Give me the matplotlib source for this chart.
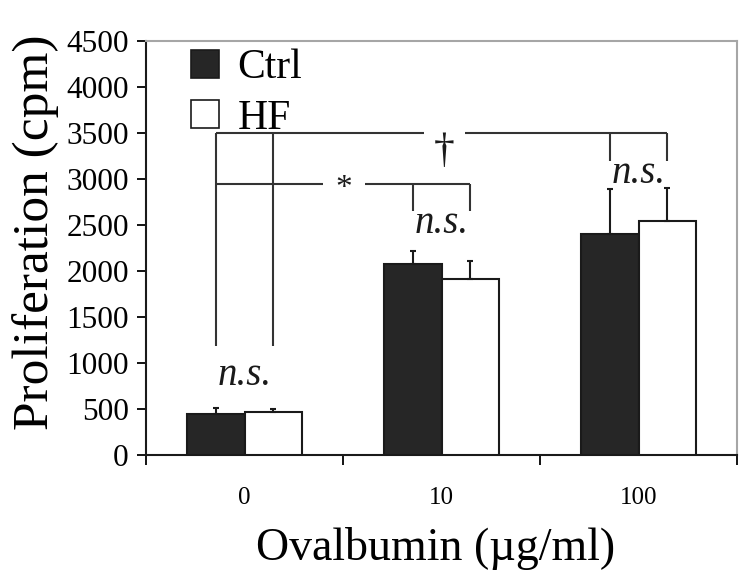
import matplotlib
matplotlib.use('Agg')
import matplotlib.pyplot as plt
from matplotlib.patches import Patch
import numpy as np

# data
doses = ['0', '10', '100']
ctrl_mean = [450, 2080, 2400]
ctrl_err = [60, 140, 490]
hf_mean = [470, 1910, 2540]
hf_err = [30, 200, 360]

plt.rcParams['font.family'] = ['Liberation Serif', 'DejaVu Serif']

fig = plt.figure(figsize=(7.5, 5.77), dpi=100)
ax = fig.add_axes([146 / 750, 1 - 455 / 577, (737 - 146) / 750, (455 - 41) / 577])

x = np.arange(len(doses))
w = 0.29
line_c = '#333333'

ax.bar(x - w / 2, ctrl_mean, width=w, color='#262626', edgecolor='#1a1a1a', linewidth=1.5, zorder=3)
ax.bar(x + w / 2, hf_mean, width=w, color='white', edgecolor='#1a1a1a', linewidth=1.5, zorder=3)

# upper error bars only
ax.errorbar(x - w / 2, ctrl_mean, yerr=[np.zeros(3), ctrl_err], fmt='none',
            ecolor='#1a1a1a', elinewidth=1.5, capsize=2.5, capthick=1.5, zorder=4)
ax.errorbar(x + w / 2, hf_mean, yerr=[np.zeros(3), hf_err], fmt='none',
            ecolor='#1a1a1a', elinewidth=1.5, capsize=2.5, capthick=1.5, zorder=4)

ax.set_xlim(-0.5, 2.5)
ax.set_ylim(0, 4500)
ax.set_yticks(np.arange(0, 4501, 500))
ax.tick_params(axis='y', direction='out', length=6.5, width=1.3, pad=6, labelsize=22.5)

# category labels at centres, tick marks at boundaries
ax.set_xticks(x)
ax.set_xticklabels(doses)
ax.set_xticks([-0.5, 0.5, 1.5, 2.5], minor=True)
ax.tick_params(axis='x', which='major', length=0, pad=23, labelsize=18)
ax.tick_params(axis='x', which='minor', direction='out', length=7, width=1.3)

for s in ['left', 'bottom']:
    ax.spines[s].set_linewidth(1.5)
    ax.spines[s].set_color('#1a1a1a')
for s in ['top', 'right']:
    ax.spines[s].set_linewidth(1.5)
    ax.spines[s].set_color('#a6a6a6')

# significance brackets
c0, h0 = -w / 2, w / 2
c1, h1 = 1 - w / 2, 1 + w / 2
c2, h2 = 2 - w / 2, 2 + w / 2
lw = 1.5

# dagger bracket: 0 vs 100
ax.vlines([c0, h0], 1180, 3500, color=line_c, lw=lw)
ax.hlines(3500, c0, 0.91, color=line_c, lw=lw)
ax.hlines(3500, 1.12, h2, color=line_c, lw=lw)
ax.vlines([c2, h2], 3200, 3500, color=line_c, lw=lw)
ax.text(1.015, 3300, '\u2020', ha='center', va='center', fontsize=30, color='#1a1a1a')

# asterisk bracket: 0 vs 10
ax.hlines(2950, c0, 0.40, color=line_c, lw=lw)
ax.hlines(2950, 0.61, h1, color=line_c, lw=lw)
ax.vlines([c1, h1], 2650, 2950, color=line_c, lw=lw)
ax.text(0.505, 2890, '*', ha='center', va='center', fontsize=24, color='#1a1a1a')

# n.s. labels
for xi, yi in [(0, 760), (1, 2410), (2, 2960)]:
    ax.text(xi, yi, 'n.s.', ha='center', va='baseline', fontsize=28, style='italic', color='#1a1a1a')

handles = [Patch(facecolor='#262626', edgecolor='#1a1a1a', linewidth=1.2),
           Patch(facecolor='white', edgecolor='#1a1a1a', linewidth=1.2)]
ax.legend(handles, ['Ctrl', 'HF'], loc='upper left', bbox_to_anchor=(170 / 750, 1 - 28 / 577),
          bbox_transform=fig.transFigure, frameon=False, fontsize=30, borderpad=0,
          handlelength=0.67, handleheight=0.67, handletextpad=0.45, labelspacing=0.29)

fig.text(436 / 750, 1 - 548 / 577, 'Ovalbumin (\u00b5g/ml)', ha='center', va='center', fontsize=33)
fig.text(36 / 750, 1 - 232 / 577, 'Proliferation (cpm)', ha='center', va='center', rotation=90, fontsize=37)

fig.savefig('out.png', dpi=100)
